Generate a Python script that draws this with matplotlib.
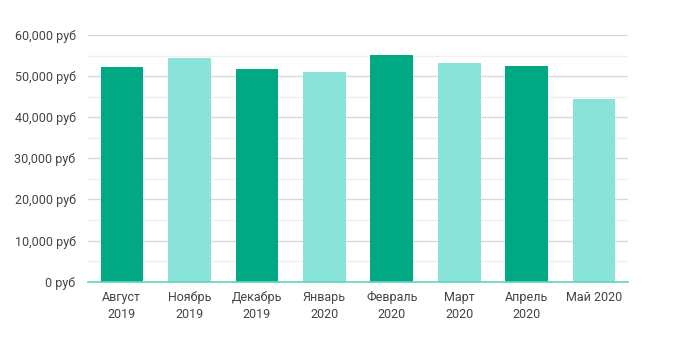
import numpy as np
import matplotlib.pyplot as plt
from matplotlib.ticker import FuncFormatter, MultipleLocator

# Средние значения по месяцам, руб
months = ['Август\n2019', 'Ноябрь\n2019', 'Декабрь\n2019', 'Январь\n2020',
          'Февраль\n2020', 'Март\n2020', 'Апрель\n2020', 'Май 2020']
values = [52200, 54300, 51700, 51100, 55100, 53300, 52500, 44500]

dark = '#00a984'
light = '#8ae3d9'
colors = [dark if i % 2 == 0 else light for i in range(len(values))]

plt.rcParams['font.family'] = ['Roboto', 'DejaVu Sans']

fig = plt.figure(figsize=(6.73, 3.42), dpi=100)
ax = fig.add_axes([0.1308, 0.1763, 0.8023, 0.7214])

x = np.arange(len(values))
ax.bar(x, values, width=0.63, color=colors, zorder=3)

ax.set_xlim(-0.5, len(values) - 0.5)
ax.set_ylim(0, 60000)
ax.yaxis.set_major_locator(MultipleLocator(10000))
ax.yaxis.set_minor_locator(MultipleLocator(5000))
ax.yaxis.set_major_formatter(FuncFormatter(lambda v, p: f'{int(v):,} руб'))

ax.grid(axis='y', which='major', color='#d9d9d9', linewidth=1, zorder=0)
ax.grid(axis='y', which='minor', color='#efefef', linewidth=1, zorder=0)

for s in ['top', 'right', 'left']:
    ax.spines[s].set_visible(False)
ax.spines['bottom'].set_color('#5fd3bd')
ax.spines['bottom'].set_linewidth(1.2)
ax.spines['bottom'].set_zorder(4)

ax.set_xticks(x)
ax.set_xticklabels(months, linespacing=1.35)
ax.tick_params(axis='x', length=0, pad=7, labelsize=9, labelcolor='#444444')
ax.tick_params(axis='y', which='both', length=0, pad=9, labelsize=9, labelcolor='#444444')

fig.savefig('out.png', dpi=100)
